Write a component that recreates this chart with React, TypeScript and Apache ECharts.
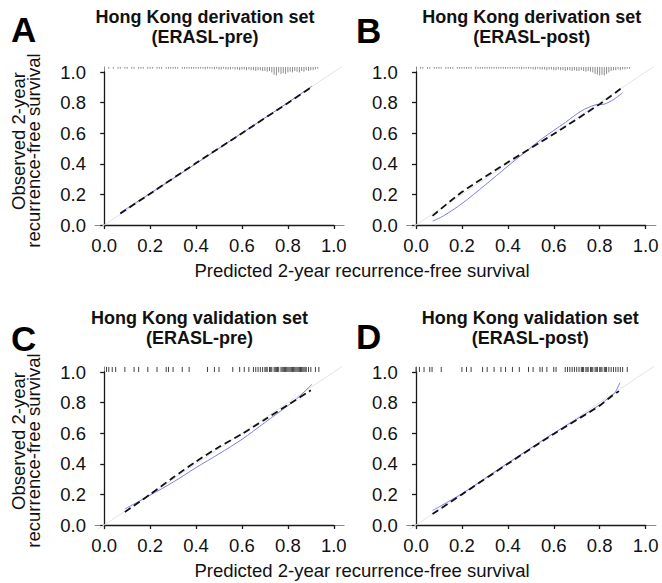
import React, { useEffect, useRef } from "react";
import * as echarts from "echarts";

// ---------------- data ----------------
const TICKS = [0, 0.2, 0.4, 0.6, 0.8, 1.0];
const LETTERS = ["A", "B", "C", "D"];
const TITLE_LINE1 = [
  "Hong Kong derivation set",
  "Hong Kong derivation set",
  "Hong Kong validation set",
  "Hong Kong validation set",
];
const TITLE_LINE2 = ["(ERASL-pre)", "(ERASL-post)", "(ERASL-pre)", "(ERASL-post)"];
const Y_TITLE = ["Observed 2-year", "recurrence-free survival"];
const X_TITLE = "Predicted 2-year recurrence-free survival";

const IDEAL = [
  [-0.1, -0.1],
  [1.2, 1.2],
];

// Panel A
const A_BLACK_X = [0.07, 0.2, 0.4, 0.6, 0.8, 0.905];
const A_BLACK_Y = [0.075, 0.205, 0.405, 0.6, 0.798, 0.903];
const A_BLUE_X = [0.07, 0.2, 0.4, 0.6, 0.8, 0.905];
const A_BLUE_Y = [0.08, 0.207, 0.402, 0.601, 0.8, 0.908];
// Panel B
const B_BLACK_X = [0.072, 0.2, 0.4, 0.6, 0.8, 0.9];
const B_BLACK_Y = [0.06, 0.215, 0.41, 0.595, 0.79, 0.9];
const B_BLUE_X = [0.072, 0.12, 0.2, 0.3, 0.4, 0.47, 0.55, 0.65, 0.72, 0.78, 0.82, 0.86, 0.9];
const B_BLUE_Y = [0.025, 0.06, 0.14, 0.26, 0.385, 0.47, 0.565, 0.67, 0.745, 0.785, 0.79, 0.82, 0.865];
// Panel C
const C_BLACK_X = [0.09, 0.2, 0.3, 0.4, 0.5, 0.6, 0.7, 0.8, 0.9];
const C_BLACK_Y = [0.085, 0.2, 0.31, 0.415, 0.51, 0.595, 0.69, 0.785, 0.88];
const C_BLUE_X = [0.09, 0.2, 0.3, 0.4, 0.5, 0.6, 0.7, 0.8, 0.85, 0.905];
const C_BLUE_Y = [0.105, 0.195, 0.28, 0.375, 0.465, 0.56, 0.67, 0.78, 0.84, 0.92];
// Panel D
const D_BLACK_X = [0.072, 0.2, 0.4, 0.6, 0.8, 0.85, 0.884];
const D_BLACK_Y = [0.072, 0.2, 0.4, 0.595, 0.78, 0.84, 0.875];
const D_BLUE_X = [0.072, 0.2, 0.4, 0.6, 0.8, 0.85, 0.865, 0.888];
const D_BLUE_Y = [0.095, 0.205, 0.405, 0.6, 0.785, 0.845, 0.86, 0.93];

// spike histograms of predicted values (bins of 0.01 starting at 0.02)
const SPIKE_BIN_START = 0.02;
const SPIKE_BIN_WIDTH = 0.01;
const A_SPIKES = [
  1, 0, 1, 0, 1, 1, 0, 1, 1,
  0, 1, 1, 0, 1, 1, 1, 0, 1, 1,
  1, 0, 1, 1, 1, 0, 1, 1, 1, 1,
  1, 1, 0, 1, 1, 1, 1, 1, 1, 1,
  1, 1, 1, 2, 1, 1, 1, 2, 1, 2,
  2, 1, 2, 2, 2, 1, 2, 2, 3, 2,
  2, 3, 2, 3, 3, 4, 3, 3, 4, 4,
  5, 4, 6, 9, 10, 6, 8, 7, 8, 6,
  5, 6, 4, 5, 6, 4, 5, 3, 4, 3,
  3, 2, 1,
];
const B_SPIKES = [
  1, 1, 0, 1, 1, 0, 1, 1, 1,
  1, 0, 1, 1, 1, 1, 0, 1, 1, 1,
  1, 1, 1, 1, 0, 1, 1, 1, 1, 1,
  1, 1, 1, 1, 1, 1, 1, 1, 1, 1,
  1, 1, 1, 1, 1, 2, 1, 1, 1, 1,
  2, 2, 1, 2, 2, 2, 3, 2, 2, 3,
  3, 2, 3, 3, 4, 3, 3, 4, 3, 4,
  4, 3, 4, 5, 4, 5, 6, 8, 9, 10,
  9, 10, 8, 6, 4, 3, 3, 2, 3, 2,
  2, 1, 1,
];
// rugs of individual predicted values (validation sets)
const C_RUG = [
  0.01, 0.02, 0.035, 0.05, 0.09, 0.13, 0.15, 0.19, 0.23, 0.27, 0.28, 0.3, 0.34, 0.37, 0.45,
  0.48, 0.5, 0.56, 0.59, 0.61, 0.63, 0.65, 0.66, 0.67, 0.68, 0.69, 0.7, 0.705, 0.71, 0.72,
  0.725, 0.73, 0.74, 0.745, 0.75, 0.755, 0.76, 0.77, 0.775, 0.78, 0.785, 0.79, 0.795, 0.8,
  0.805, 0.81, 0.815, 0.82, 0.825, 0.83, 0.835, 0.84, 0.845, 0.85, 0.855, 0.86, 0.865, 0.87,
  0.875, 0.88, 0.89, 0.9, 0.92, 0.935,
];
const D_RUG = [
  0.0, 0.015, 0.035, 0.06, 0.07, 0.11, 0.2, 0.22, 0.24, 0.29, 0.31, 0.34, 0.37, 0.39, 0.42,
  0.45, 0.49, 0.51, 0.54, 0.55, 0.57, 0.6, 0.61, 0.65, 0.66, 0.67, 0.68, 0.69, 0.7, 0.71, 0.72,
  0.725, 0.73, 0.74, 0.745, 0.75, 0.76, 0.765, 0.77, 0.78, 0.785, 0.79, 0.8, 0.805, 0.81, 0.82,
  0.825, 0.83, 0.84, 0.85, 0.86, 0.87, 0.88, 0.89, 0.9, 0.92,
];

// ---------------- layout ----------------
const FONT = "'Liberation Sans', Arial, Helvetica, sans-serif";
const FS = 18.5;
const SX = 229.6; // px per unit on x
const SY = 153; // px per unit on y
const PX0 = 104.2; // pixel of x=0 in panel A
const PY0 = 225; // pixel of y=0 in panel A
const DX = 311.8;
const DY = 300;
const XMIN = -0.04;
const XMAX = 1.045;
const YMIN = -0.025;
const YMAX = 1.033;
const YAXIS_X = 94.5;
const XAXIS_Y = 229.5;
const OFFSETS = [
  [0, 0],
  [DX, 0],
  [0, DY],
  [DX, DY],
];
const TITLE_POS = [
  [205, 26.6],
  [531.7, 26.8],
  [199.4, 328],
  [530.3, 328],
];
const LETTER_POS = [
  [11, 29.8],
  [356, 30],
  [11, 338.5],
  [356, 336],
];

const zip = (xs: number[], ys: number[]) => xs.map((x, i) => [x, ys[i]]);

function buildOption() {
  const grids: any[] = [];
  const xAxes: any[] = [];
  const yAxes: any[] = [];
  const series: any[] = [];
  const graphics: any[] = [];

  const panels = [
    { black: zip(A_BLACK_X, A_BLACK_Y), blue: zip(A_BLUE_X, A_BLUE_Y), spikes: A_SPIKES, rug: null },
    { black: zip(B_BLACK_X, B_BLACK_Y), blue: zip(B_BLUE_X, B_BLUE_Y), spikes: B_SPIKES, rug: null },
    { black: zip(C_BLACK_X, C_BLACK_Y), blue: zip(C_BLUE_X, C_BLUE_Y), spikes: null, rug: C_RUG },
    { black: zip(D_BLACK_X, D_BLACK_Y), blue: zip(D_BLUE_X, D_BLUE_Y), spikes: null, rug: D_RUG },
  ] as any[];

  panels.forEach((p, k) => {
    const [ox, oy] = OFFSETS[k];
    const px0 = PX0 + ox;
    const py0 = PY0 + oy;
    // plot grid (extended range)
    const gPlot = grids.length;
    grids.push({
      left: px0 + XMIN * SX,
      top: py0 - YMAX * SY,
      width: (XMAX - XMIN) * SX,
      height: (YMAX - YMIN) * SY,
      show: false,
      outerBoundsMode: "none",
    });
    // axis grid (0..1)
    const gAxis = grids.length;
    grids.push({
      left: px0,
      top: py0 - SY,
      width: SX,
      height: SY,
      show: false,
      outerBoundsMode: "none",
    });
    const xPlot = xAxes.length;
    xAxes.push({
      type: "value",
      gridIndex: gPlot,
      position: "top",
      min: XMIN,
      max: XMAX,
      axisLine: { show: true, lineStyle: { color: "#8a8a8a", width: 1 } },
      axisTick: { show: false },
      axisLabel: { show: false },
      splitLine: { show: false },
    });
    xAxes.push({
      type: "value",
      gridIndex: gAxis,
      position: "bottom",
      min: TICKS[0],
      max: TICKS[TICKS.length - 1],
      interval: 0.2,
      offset: XAXIS_Y + oy - py0,
      axisLine: { show: true, lineStyle: { color: "#1a1a1a", width: 1.3 } },
      axisTick: { show: true, length: 4, lineStyle: { color: "#1a1a1a", width: 1.3 } },
      axisLabel: {
        show: true,
        margin: 6,
        fontFamily: FONT,
        fontSize: FS,
        color: "#111",
        formatter: (v: number) => v.toFixed(1),
      },
      splitLine: { show: false },
    });
    const yPlot = yAxes.length;
    yAxes.push({
      type: "value",
      gridIndex: gPlot,
      position: "right",
      min: YMIN,
      max: YMAX,
      axisLine: { show: true, lineStyle: { color: "#8a8a8a", width: 1 } },
      axisTick: { show: false },
      axisLabel: { show: false },
      splitLine: { show: false },
    });
    yAxes.push({
      type: "value",
      gridIndex: gAxis,
      position: "left",
      min: TICKS[0],
      max: TICKS[TICKS.length - 1],
      interval: 0.2,
      offset: px0 - (YAXIS_X + ox),
      axisLine: { show: true, lineStyle: { color: "#1a1a1a", width: 1.3 } },
      axisTick: { show: true, length: 4, lineStyle: { color: "#1a1a1a", width: 1.3 } },
      axisLabel: {
        show: true,
        margin: 8.5,
        fontFamily: FONT,
        fontSize: FS,
        color: "#111",
        formatter: (v: number) => v.toFixed(1),
      },
      splitLine: { show: false },
    });

    // ideal line
    series.push({
      type: "line",
      xAxisIndex: xPlot,
      yAxisIndex: yPlot,
      data: IDEAL,
      symbol: "none",
      clip: true,
      silent: true,
      lineStyle: { color: "#e3e3e3", width: 1 },
      z: 1,
    });
    // black dashed (apparent)
    series.push({
      type: "line",
      xAxisIndex: xPlot,
      yAxisIndex: yPlot,
      data: p.black,
      symbol: "none",
      smooth: 0.25,
      silent: true,
      lineStyle: { color: "#111", width: 1.8, type: [7, 4] },
      z: 3,
    });
    // blue (bias-corrected)
    series.push({
      type: "line",
      xAxisIndex: xPlot,
      yAxisIndex: yPlot,
      data: p.blue,
      symbol: "none",
      smooth: 0.3,
      silent: true,
      lineStyle: { color: "#7d7bf2", width: 1 },
      z: 2,
    });

    // distribution of predictions along the top
    let rugData: number[][];
    let scale: number;
    let base: number;
    let color: string;
    if (p.spikes) {
      rugData = (p.spikes as number[]).map((c, i) => [SPIKE_BIN_START + i * SPIKE_BIN_WIDTH, c]);
      scale = 0.75;
      base = 1;
      color = "#808080";
    } else {
      rugData = (p.rug as number[]).map((x) => [x, 1]);
      scale = 5;
      base = 0;
      color = "#2a2a2a";
    }
    series.push({
      type: "custom",
      xAxisIndex: xPlot,
      yAxisIndex: yPlot,
      data: rugData,
      silent: true,
      clip: false,
      z: 4,
      renderItem: (_params: any, api: any) => {
        const x = api.value(0);
        const h = api.value(1);
        if (!h) return null;
        const pt = api.coord([x, YMAX]);
        return {
          type: "line",
          shape: { x1: pt[0], y1: pt[1], x2: pt[0], y2: pt[1] + base + h * scale },
          style: { stroke: color, lineWidth: 0.9 },
        };
      },
    });

    // title (two lines)
    graphics.push({
      type: "text",
      x: TITLE_POS[k][0],
      y: TITLE_POS[k][1],
      style: {
        text: TITLE_LINE1[k] + "\n" + TITLE_LINE2[k],
        fontFamily: FONT,
        fontSize: 18,
        fontWeight: "bold",
        lineHeight: 20.2,
        fill: "#111",
        textAlign: "center",
        textVerticalAlign: "middle",
      },
    });
    graphics.push({
      type: "text",
      x: LETTER_POS[k][0],
      y: LETTER_POS[k][1],
      style: {
        text: LETTERS[k],
        fontFamily: FONT,
        fontSize: 35,
        fontWeight: "bold",
        fill: "#000",
        textAlign: "left",
        textVerticalAlign: "middle",
      },
    });
  });

  // y-axis titles (left column) and x-axis titles (each row)
  [0, 300].forEach((oy) => {
    graphics.push({
      type: "text",
      x: 26,
      y: 150.5 + oy,
      rotation: Math.PI / 2,
      style: {
        text: "{a|" + Y_TITLE[0] + "}\n{b|" + Y_TITLE[1] + "}",
        fontFamily: FONT,
        fontSize: FS,
        lineHeight: 15,
        fill: "#111",
        textAlign: "center",
        textVerticalAlign: "middle",
        rich: {
          a: { fontFamily: FONT, fontSize: FS, lineHeight: 15, fill: "#111", padding: [0, 0, 0, 19] },
          b: { fontFamily: FONT, fontSize: FS, lineHeight: 15, fill: "#111" },
        },
      },
    });
    graphics.push({
      type: "text",
      x: 362,
      y: 270.5 + oy,
      style: {
        text: X_TITLE,
        fontFamily: FONT,
        fontSize: FS,
        fill: "#111",
        textAlign: "center",
        textVerticalAlign: "middle",
      },
    });
  });

  return {
    animation: false,
    backgroundColor: "#ffffff",
    grid: grids,
    xAxis: xAxes,
    yAxis: yAxes,
    series,
    graphic: graphics,
  };
}

export default function App() {
  const ref = useRef<HTMLDivElement>(null);
  useEffect(() => {
    const chart = echarts.init(ref.current!, null, { renderer: "svg" });
    chart.setOption(buildOption() as any);
    return () => chart.dispose();
  }, []);
  return (
    <div
      ref={ref}
      style={{ position: "fixed", left: 0, top: 0, width: 662, height: 583, background: "#fff" }}
    />
  );
}
